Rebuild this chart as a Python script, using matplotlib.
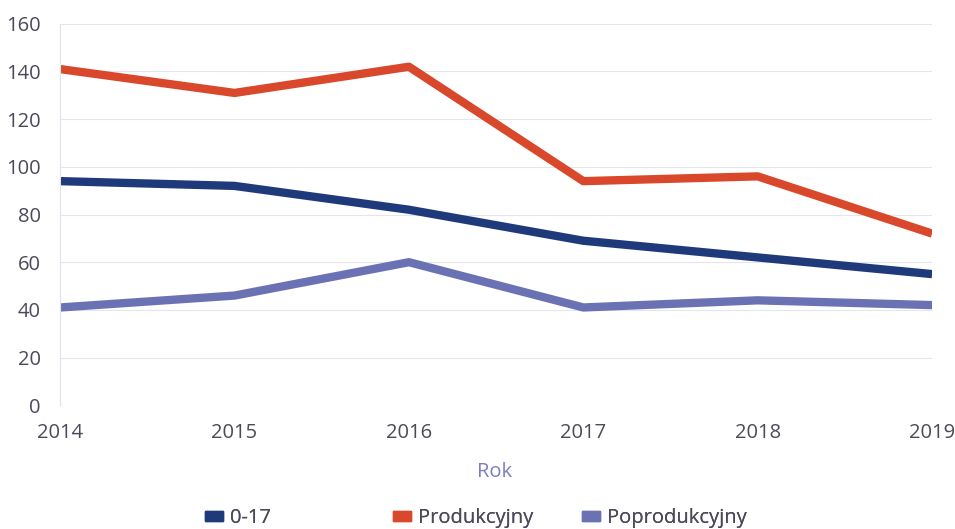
import matplotlib.pyplot as plt
from matplotlib.patches import Patch

# Data
years = [2014, 2015, 2016, 2017, 2018, 2019]
age_0_17 = [94, 92, 82, 69, 62, 55]
produkcyjny = [141, 131, 142, 94, 96, 72]
poprodukcyjny = [41, 46, 60, 41, 44, 42]

series = ['0-17', 'Produkcyjny', 'Poprodukcyjny']
colors = {'0-17': '#1f3a7a', 'Produkcyjny': '#d9482b', 'Poprodukcyjny': '#6b72b3'}
text_color = '#4a4a5a'

plt.rcParams['font.family'] = ['Open Sans', 'DejaVu Sans']

fig = plt.figure(figsize=(9.55, 5.29), dpi=100)
ax = fig.add_axes([0.063, 0.234, 0.913, 0.721])

ax.plot(years, age_0_17, color=colors['0-17'], lw=6, solid_capstyle='butt')
ax.plot(years, produkcyjny, color=colors['Produkcyjny'], lw=6, solid_capstyle='butt')
ax.plot(years, poprodukcyjny, color=colors['Poprodukcyjny'], lw=6, solid_capstyle='butt')

ax.set_xlim(2014, 2019)
ax.set_ylim(0, 160)
ax.set_yticks(range(0, 161, 20))
ax.set_xticks(years)
ax.grid(axis='y', color='#e3e5ef', lw=0.8)
ax.set_axisbelow(True)

for s in ['top', 'right', 'bottom']:
    ax.spines[s].set_visible(False)
ax.spines['left'].set_color('#dfe2ee')
ax.spines['left'].set_linewidth(0.8)

ax.tick_params(axis='both', length=0, labelsize=14.5, labelcolor=text_color)
ax.tick_params(axis='y', pad=14)
ax.tick_params(axis='x', pad=13)

fig.text(0.518, 0.107, 'Rok', ha='center', va='center', fontsize=14.5, color='#7a80bd')

# legend entries sit at fixed positions in the reference
legend_x = [0.2147, 0.4115, 0.6094]
for name, x in zip(series, legend_x):
    leg = fig.legend([Patch(color=colors[name])], [name], loc='center left',
                     bbox_to_anchor=(x, 0.02), frameon=False, fontsize=14.5,
                     handlelength=0.9, handleheight=0.35, handletextpad=0.35,
                     borderpad=0, borderaxespad=0)
    leg.get_texts()[0].set_color(text_color)
    fig.add_artist(leg)

fig.savefig('out.png', dpi=100)
